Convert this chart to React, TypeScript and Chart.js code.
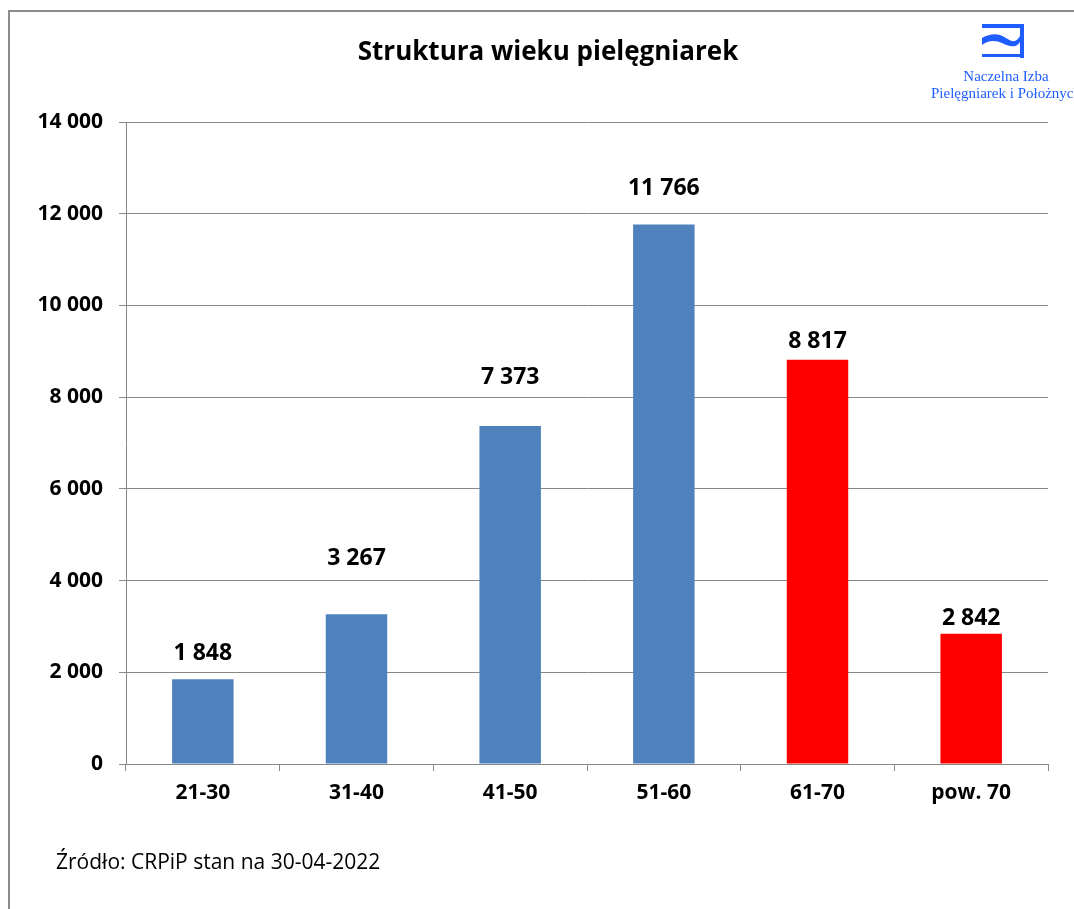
import React, { useEffect, useRef } from "react";
import { Chart, registerables } from "chart.js";

Chart.register(...registerables);

const categories = ["21-30", "31-40", "41-50", "51-60", "61-70", "pow. 70"];
const values = [1848, 3267, 7373, 11766, 8817, 2842];
const barColors = ["#4F81BD", "#4F81BD", "#4F81BD", "#4F81BD", "#FF0000", "#FF0000"];
const yTicks = [0, 2000, 4000, 6000, 8000, 10000, 12000, 14000];
const labelGaps = [27, 57, 50, 37, 20, 17];

const fmt = (v: number) => String(Math.round(v)).replace(/\B(?=(\d{3})+(?!\d))/g, " ");
const FONT = "'Open Sans', Lato, sans-serif";

const valueLabels = {
  id: "valueLabels",
  afterDatasetsDraw(chart: any) {
    const ctx = chart.ctx;
    const meta = chart.getDatasetMeta(0);
    ctx.save();
    ctx.font = `bold 23px ${FONT}`;
    ctx.fillStyle = "#000";
    ctx.textAlign = "center";
    ctx.textBaseline = "alphabetic";
    meta.data.forEach((bar: any, i: number) => {
      ctx.fillText(fmt(values[i]), bar.x, bar.y - labelGaps[i] + 8);
    });
    ctx.restore();
  },
};

export default function App() {
  const ref = useRef<HTMLCanvasElement>(null);
  useEffect(() => {
    document.body.style.margin = "0";
    const chart = new Chart(ref.current!, {
      type: "bar",
      data: {
        labels: categories,
        datasets: [
          {
            data: values,
            backgroundColor: barColors,
            borderWidth: 0,
            barPercentage: 0.4,
            categoryPercentage: 1,
          },
        ],
      },
      plugins: [valueLabels],
      options: {
        animation: false,
        responsive: false,
        events: [],
        layout: { padding: { top: 122, right: 26, bottom: 0, left: 0 } },
        plugins: { legend: { display: false }, tooltip: { enabled: false }, title: { display: false } },
        scales: {
          x: {
            grid: { display: true, drawOnChartArea: false, drawTicks: true, tickLength: 7, offset: true, color: "#888" },
            border: { display: true, color: "#888", width: 1 },
            ticks: { color: "#000", font: { family: FONT, size: 21, weight: "bold" }, padding: 9, maxRotation: 0 },
            afterFit: (s: any) => { s.height = 145; },
          },
          y: {
            min: 0,
            max: 14000,
            afterBuildTicks: (s: any) => { s.ticks = yTicks.map((v) => ({ value: v })); },
            grid: { color: "#888", tickLength: 7, drawTicks: true },
            border: { display: true, color: "#888", width: 1 },
            ticks: {
              color: "#000",
              font: { family: FONT, size: 21, weight: "bold" },
              padding: 16,
              callback: (v: any) => fmt(Number(v)),
            },
            afterFit: (s: any) => { s.width = 126; },
          },
        },
      },
    });
    return () => chart.destroy();
  }, []);

  const blue = "#1F5DFF";
  return (
    <div style={{ position: "relative", width: 1074, height: 909, overflow: "hidden", background: "#fff" }}>
      <canvas ref={ref} width={1074} height={909} style={{ display: "block", position: "absolute", left: 0, top: 0 }} />
      <div
        style={{
          position: "absolute", left: 8, top: 10, width: 1200, height: 1000,
          borderLeft: "2px solid #8c8c8c", borderTop: "2px solid #8c8c8c", pointerEvents: "none",
        }}
      />
      <div
        style={{
          position: "absolute", left: 0, width: 1096, top: 37, textAlign: "center",
          font: `bold 26px ${FONT}`, lineHeight: "26px", color: "#000", whiteSpace: "nowrap",
        }}
      >
        Struktura wieku pielęgniarek
      </div>
      <div
        style={{
          position: "absolute", left: 56, top: 851, font: `21px ${FONT}`, lineHeight: "21px",
          color: "#000", whiteSpace: "nowrap",
        }}
      >
        Źródło: CRPiP stan na 30-04-2022
      </div>
      <svg style={{ position: "absolute", left: 980, top: 22 }} width={48} height={38} viewBox="0 0 48 38">
        <rect x={2} y={2} width={42} height={4} fill={blue} />
        <rect x={40} y={2} width={4} height={34} fill={blue} />
        <rect x={2} y={32} width={42} height={3} fill={blue} />
        <path d="M2 16 C 12 10, 20 12, 26 16 S 36 21, 40 14 L 40 20 C 36 27, 28 24, 22 21 S 8 18, 2 23 Z" fill={blue} />
      </svg>
      <div
        style={{
          position: "absolute", left: 906, width: 200, top: 68, textAlign: "center",
          font: "15px 'Liberation Serif', 'Times New Roman', serif", lineHeight: "17px", color: blue, whiteSpace: "nowrap",
        }}
      >
        Naczelna Izba
        <br />
        Pielęgniarek i Położnych
      </div>
    </div>
  );
}
